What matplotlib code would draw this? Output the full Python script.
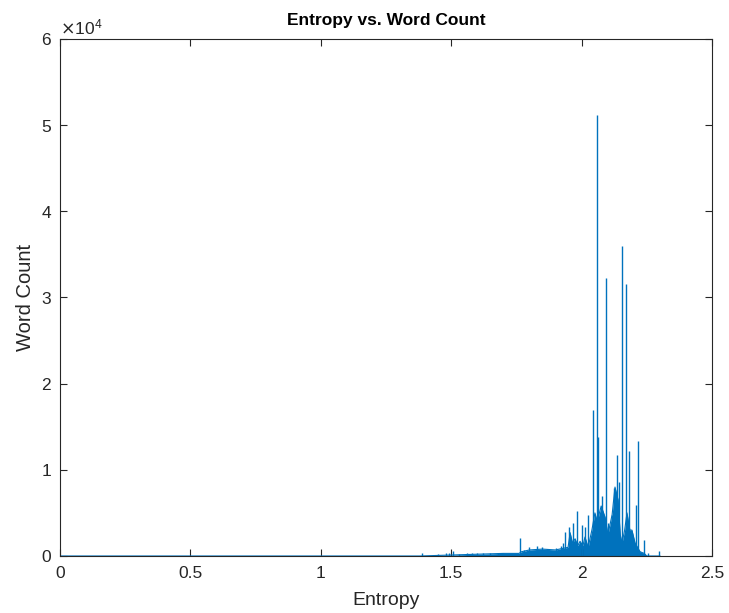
import matplotlib
matplotlib.use("Agg")
import matplotlib.pyplot as plt
from matplotlib.ticker import ScalarFormatter

# Tall spikes: entropy and word count
spike_entropy = [1.389, 1.45, 1.48, 1.49, 1.505, 1.53, 1.56, 1.58, 1.60, 1.62,
                 1.65, 1.68, 1.70, 1.764, 1.78, 1.80, 1.83, 1.85, 1.87, 1.90,
                 1.92, 1.930, 1.937, 1.952, 1.967, 1.984, 2.000, 2.013, 2.026,
                 2.042, 2.060, 2.064, 2.077, 2.090, 2.095, 2.102, 2.115, 2.124,
                 2.136, 2.142, 2.154, 2.170, 2.181, 2.208, 2.215, 2.239, 2.256,
                 2.297]
spike_count = [300, 200, 300, 400, 600, 200, 300, 300, 300, 300,
               300, 300, 400, 2100, 700, 1100, 1200, 1100, 800, 900,
               1200, 1500, 2800, 3400, 3800, 5200, 3600, 3400, 4800,
               16900, 51200, 13800, 7000, 3400, 32300, 3800, 4800, 7900,
               11700, 8600, 36000, 31600, 12200, 5900, 13300, 1900, 400,
               600]

# Dense lower mass of the distribution (outline)
mass_entropy = [0.0, 1.38, 1.70, 1.76, 1.77, 1.80, 1.85, 1.90, 1.93, 1.948,
                1.956, 1.965, 1.975, 1.985, 1.994, 2.005, 2.013, 2.025, 2.040,
                2.051, 2.060, 2.075, 2.090, 2.097, 2.101, 2.117, 2.128, 2.140,
                2.148, 2.155, 2.165, 2.174, 2.185, 2.193, 2.205, 2.224, 2.240,
                2.250, 2.300]
mass_count = [0, 0, 300, 300, 500, 700, 800, 700, 900, 1000,
              2700, 1500, 2000, 1200, 1700, 1200, 2200, 1000, 3100,
              5000, 4000, 5800, 4500, 3200, 2500, 4800, 8000, 6500,
              2500, 1500, 3000, 5000, 3000, 3000, 1500, 500, 300,
              0, 0]

blue = "#0072BD"
dark = "#262626"

plt.rcParams["font.family"] = ["Liberation Sans", "DejaVu Sans"]

fig = plt.figure(figsize=(7.29, 6.13), dpi=100)
ax = fig.add_axes([0.0823, 0.093, 0.8944, 0.8434])

ax.fill_between(mass_entropy, 0, mass_count, color=blue, linewidth=0)
ax.plot(mass_entropy, mass_count, color=blue, linewidth=0.8)
ax.vlines(spike_entropy, 0, spike_count, color=blue, linewidth=1.0)

ax.set_xlim(0, 2.5)
ax.set_ylim(0, 60000)
ax.set_xticks([0, 0.5, 1, 1.5, 2, 2.5])
ax.set_xticklabels(["0", "0.5", "1", "1.5", "2", "2.5"])
ax.set_yticks([0, 10000, 20000, 30000, 40000, 50000, 60000])

fmt = ScalarFormatter(useMathText=True)
fmt.set_powerlimits((4, 4))
ax.yaxis.set_major_formatter(fmt)
ax.yaxis.get_offset_text().set_fontsize(12.5)
ax.yaxis.get_offset_text().set_color(dark)

ax.tick_params(direction="in", top=True, right=True, length=5, width=0.8,
               labelsize=12.5, colors=dark)
ax.tick_params(axis="x", pad=7)
ax.tick_params(axis="y", pad=6)
for s in ax.spines.values():
    s.set_color(dark)
    s.set_linewidth(0.8)

ax.set_title("Entropy vs. Word Count", fontsize=12.5, fontweight="bold",
             color="black", pad=10)
ax.set_xlabel("Entropy", fontsize=14, color=dark, labelpad=8)
ax.set_ylabel("Word Count", fontsize=14.5, color=dark, labelpad=4)

fig.savefig("out.png", dpi=100)
